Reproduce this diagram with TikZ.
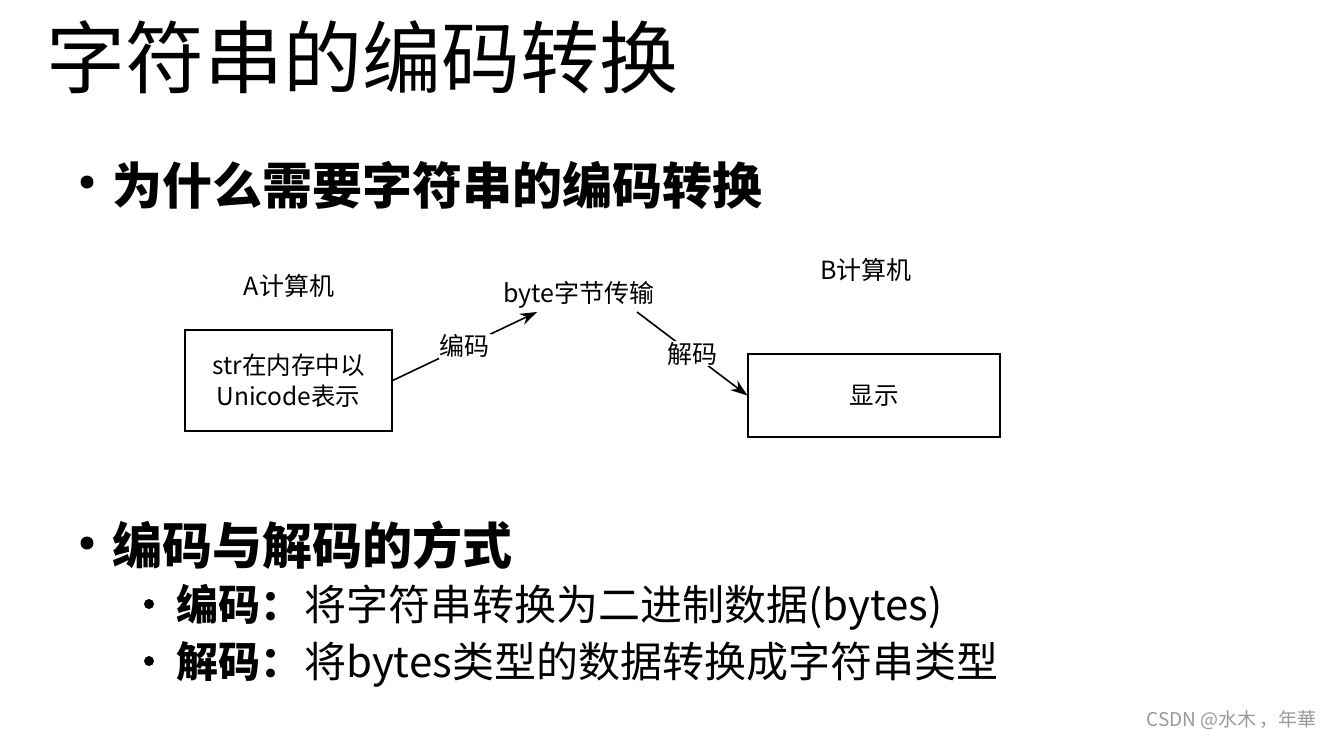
\documentclass[tikz,border=0pt]{standalone}
\usepackage{fontspec}
\setmainfont{Noto Sans CJK SC}
\usetikzlibrary{arrows.meta}
\begin{document}
\begin{tikzpicture}[x=1pt,y=-1pt,
  lbl/.style={font=\fontsize{25}{29}\selectfont, inner sep=1pt},
  boxn/.style={draw, line width=1.2pt, font=\fontsize{24.5}{31}\selectfont, align=center, inner sep=0pt},
  conn/.style={line width=1.6pt, -{Stealth[length=17pt,width=12pt]}},
  bul/.style={circle, fill=black, inner sep=0pt}
]
\useasboundingbox (0,0) rectangle (1330,740);
\fill[white] (0,0) rectangle (1330,740);
% title
\node[anchor=base west, inner sep=0pt, font=\fontsize{79}{83}\selectfont] (title) at (46,87) {字符串的编码转换};
% bullet 1
\node[bul, minimum size=13pt] (b1) at (87,182) {};
\node[anchor=base west, inner sep=0pt, font=\fontsize{50}{54}\selectfont\bfseries] (t1) at (112,204) {为什么需要字符串的编码转换};
% diagram
\node[lbl] (la) at (289,286) {A计算机};
\node[lbl] (lb) at (866,270) {B计算机};
\node[lbl] (mid) at (579,295) {byte字节传输};
\node[boxn, minimum width=207pt, minimum height=101pt] (boxa) at (288.5,380.5) {str在内存中以\\Unicode表示};
\node[boxn, minimum width=252pt, minimum height=83pt] (boxb) at (874,395.5) {显示};
\coordinate (e1) at (537,312);
\coordinate (s2) at (637,312);
\draw[conn] (boxa.east) -- node[lbl, fill=white, pos=0.5] (enc) {编码} (e1);
\draw[conn] (s2) -- node[lbl, fill=white, pos=0.5] (dec) {解码} ([yshift=0pt]boxb.west);
% bullet 2
\node[bul, minimum size=13pt] (b2) at (87,543) {};
\node[anchor=base west, inner sep=0pt, font=\fontsize{50}{54}\selectfont\bfseries] (t2) at (112,564) {编码与解码的方式};
\node[bul, minimum size=10pt] (b3) at (149,604) {};
\node[anchor=base west, inner sep=0pt, font=\fontsize{42}{45}\selectfont\bfseries] (t3a) at (176,620) {编码：};
\node[anchor=base west, inner sep=0pt, font=\fontsize{42}{45}\selectfont] (t3) at (304,620) {将字符串转换为二进制数据(bytes)};
\node[bul, minimum size=10pt] (b4) at (149,661) {};
\node[anchor=base west, inner sep=0pt, font=\fontsize{42}{45}\selectfont\bfseries] (t4a) at (176,677) {解码：};
\node[anchor=base west, inner sep=0pt, font=\fontsize{42}{45}\selectfont] (t4) at (304,677) {将bytes类型的数据转换成字符串类型};
% watermark
\node[font=\fontsize{19}{21}\selectfont, text=black!40, anchor=east, inner sep=0pt] (wm) at (1317,720) {CSDN @水木\,，年華};
\end{tikzpicture}
\end{document}
